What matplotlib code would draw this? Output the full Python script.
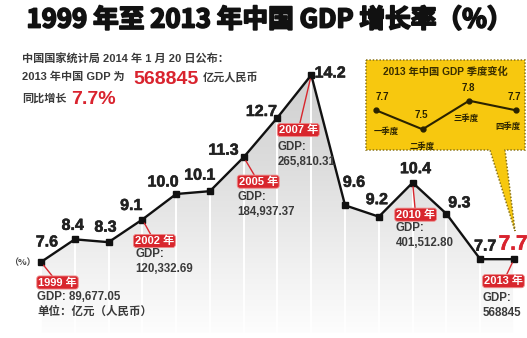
import numpy as np
import matplotlib
matplotlib.use("Agg")
import matplotlib.pyplot as plt
from matplotlib.patches import Polygon
from matplotlib.colors import LinearSegmentedColormap
from matplotlib import font_manager
import matplotlib.patheffects as pe

# ---- data -------------------------------------------------------------
years = list(range(1999, 2014))
growth = [7.6, 8.4, 8.3, 9.1, 10.0, 10.1, 11.3, 12.7, 14.2, 9.6, 9.2, 10.4, 9.3, 7.7, 7.7]
growth_labels = ["7.6", "8.4", "8.3", "9.1", "10.0", "10.1", "11.3", "12.7",
                 "14.2", "9.6", "9.2", "10.4", "9.3", "7.7", "7.7"]

gdp_years = [1999, 2002, 2005, 2007, 2010, 2013]
gdp_values = ["89,677.05", "120,332.69", "184,937.37", "265,810.31", "401,512.80", "568845"]

quarters = ["一季度", "二季度", "三季度", "四季度"]
quarter_growth = [7.7, 7.5, 7.8, 7.7]

title = "1999 年至 2013 年中国 GDP 增长率（%）"
gdp_2013 = "568845"
growth_2013 = "7.7%"

# ---- fonts ------------------------------------------------------------
ttf = font_manager.fontManager.ttflist
names = {f.name for f in ttf}
NUM = "Liberation Sans"
for cand in ("Liberation Sans Narrow", "DejaVu Sans Condensed"):
    if cand in names:
        NUM = cand
        break
CJK = "Noto Sans CJK SC"
MIX = [NUM, CJK]
WIDE = ["Liberation Sans", CJK]

W, H = 527, 338
fig = plt.figure(figsize=(W / 100, H / 100), dpi=100)
fig.patch.set_facecolor("white")


def fp(px, py):
    """pixel position (from top-left) -> figure fraction"""
    return px / W, 1 - py / H


ax = fig.add_axes([0, 0, 1, 1])
ax.axis("off")
XLIM = (1997.7865, 2013.3848)
YLIM = (4.918, 16.847)

# ---- gradient area under the line ------------------------------------
ybot = 5.1
grad = np.linspace(0, 1, 256).reshape(-1, 1)
cmap = LinearSegmentedColormap.from_list(
    "area", ["#fdfdfd", "#ededed", "#dcdcdc", "#d0d0d0"])
im = ax.imshow(grad, extent=[years[0], years[-1], ybot, max(growth)],
               origin="lower", cmap=cmap, aspect="auto", zorder=1,
               interpolation="bilinear")
clip = Polygon(list(zip(years, growth)) + [(years[-1], ybot), (years[0], ybot)],
               closed=True, transform=ax.transData, fc="none", ec="none")
ax.add_patch(clip)
im.set_clip_path(clip)
ax.vlines(years, ybot, growth, colors="white", lw=1.4, zorder=2)

# ---- main line --------------------------------------------------------
ax.plot(years, growth, color="#111111", lw=1.7, marker="s", ms=4.2,
        mfc="#111111", mec="#111111", zorder=4)
ax.set_xlim(*XLIM)
ax.set_ylim(*YLIM)

# value labels (pixel offsets, y downward)
label_offsets = [(6, -20), (-2, -14), (-3, -15), (-11, -14), (-13, -12),
                 (-10, -16), (-20, -7), (-16, -6), (19, -2), (9, -23),
                 (-2, -17), (3, -14), (13, -11), (5, -13), (-1, -15)]
for i, (yr, g, txt) in enumerate(zip(years, growth, growth_labels)):
    dx, dy = label_offsets[i]
    last = i == len(years) - 1
    ax.annotate(txt, (yr, g), xytext=(dx, -dy), textcoords="offset pixels",
                ha="center", va="center", fontsize=15 if last else 11.5,
                fontweight="bold", color="#d9232e" if last else "#222222",
                family=NUM, zorder=5, annotation_clip=False,
                path_effects=[pe.withStroke(linewidth=0.4,
                                            foreground="#d9232e" if last else "#222222")])

# red year tags with GDP figures
tag_offsets = [(16.5, 20.5), (12, 21.5), (14.5, 24.5), (-13, 55), (3, 32), (-10.5, 22)]
text_offsets = [(-4, 35), (-7, 34), (-6, 40), (-34, 72), (-17, 45), (-31, 39)]
growth_by_year = dict(zip(years, growth))
for i, (yr, v) in enumerate(zip(gdp_years, gdp_values)):
    g = growth_by_year[yr]
    dx, dy = tag_offsets[i]
    ax.annotate(f"{yr} 年", (yr, g), xytext=(dx, -dy), textcoords="offset pixels",
                ha="center", va="center", fontsize=8, fontweight="bold",
                color="white", family=MIX, zorder=6,
                bbox=dict(boxstyle="round,pad=0.12,rounding_size=0.25",
                          fc="#d8262d", ec="#ee8a8a", lw=0.6),
                arrowprops=dict(arrowstyle="-", color="#d8262d", lw=1.0,
                                shrinkA=0, shrinkB=3))
    tx, ty = text_offsets[i]
    if i == 0:
        lines = [f"GDP: {v}", "单位：亿元（人民币）"]
    else:
        lines = ["GDP:", v]
    for k, line in enumerate(lines):
        ax.annotate(line, (yr, g), xytext=(tx, -(ty + 15 * k)),
                    textcoords="offset pixels", ha="left", va="center",
                    fontsize=8.3, fontweight="bold", color="#3a3a3a",
                    family=MIX, zorder=6, annotation_clip=False)

# ---- title and notes --------------------------------------------------
fig.text(*fp(270, 20), title, ha="center", va="center", fontsize=18.5,
         fontweight="black", color="#111111", family=[CJK],
         path_effects=[pe.withStroke(linewidth=1.3, foreground="#111111")])
fig.text(*fp(22, 59), "中国国家统计局 2014 年 1 月 20 日公布：", ha="left",
         va="center", fontsize=8, fontweight="bold", color="#3a3a3a", family=MIX)
fig.text(*fp(22, 77), "2013 年中国 GDP 为", ha="left", va="center",
         fontsize=8, fontweight="bold", color="#3a3a3a", family=MIX)
fig.text(*fp(133, 79), gdp_2013, ha="left", va="center", fontsize=14,
         fontweight="bold", color="#d9232e", family=WIDE)
fig.text(*fp(203, 77), "亿元人民币", ha="left", va="center",
         fontsize=8, fontweight="bold", color="#3a3a3a", family=MIX)
fig.text(*fp(22, 98), "同比增长", ha="left", va="center",
         fontsize=8, fontweight="bold", color="#3a3a3a", family=MIX)
fig.text(*fp(71, 99), growth_2013, ha="left", va="center", fontsize=14,
         fontweight="bold", color="#d9232e", family=WIDE)
fig.text(*fp(22, 263), "（%）", ha="center", va="center", fontsize=6.5,
         fontweight="bold", color="#444444", family=[CJK])

# ---- quarterly callout ------------------------------------------------
callout_px = [(366, 60), (525, 60), (525, 150), (505, 150), (515, 231),
              (490, 150), (366, 150)]
callout = Polygon([fp(x, y) for x, y in callout_px], closed=True,
                  transform=fig.transFigure, fc="#f7c80f", ec="#8a7417",
                  lw=1.1, ls=(0, (1, 1.2)), zorder=1)
fig.add_artist(callout)

ax2 = fig.add_axes([366 / W, 1 - 150 / H, 159 / W, 90 / H])
ax2.set_zorder(2)
ax2.patch.set_visible(False)
ax2.axis("off")
qx = np.arange(len(quarters))
ax2.plot(qx, quarter_growth, color="#2a2200", lw=1.5, marker="o", ms=3.5, zorder=3)
ax2.set_xlim(-0.2146, 3.2)
ax2.set_ylim(7.283, 8.227)
q_val_off = [(6, -13), (-1, -14), (-1, -13), (-1, -13)]
q_cat_off = [(10, 21), (0, 17), (-3, 18), (-8, 16)]
for i, (q, v) in enumerate(zip(quarters, quarter_growth)):
    ax2.annotate(f"{v:.1f}", (qx[i], v), xytext=(q_val_off[i][0], -q_val_off[i][1]),
                 textcoords="offset pixels", ha="center", va="center",
                 fontsize=7, fontweight="bold", color="#2a2200", family=NUM,
                 annotation_clip=False)
    ax2.annotate(q, (qx[i], v), xytext=(q_cat_off[i][0], -q_cat_off[i][1]),
                 textcoords="offset pixels", ha="center", va="center",
                 fontsize=6, fontweight="bold", color="#2a2200", family=[CJK],
                 annotation_clip=False)
fig.text(*fp(445, 72), "2013 年中国 GDP 季度变化", ha="center", va="center",
         fontsize=7.4, fontweight="bold", color="#3b2f00", family=MIX)

fig.savefig("out.png", dpi=100, facecolor="white")
